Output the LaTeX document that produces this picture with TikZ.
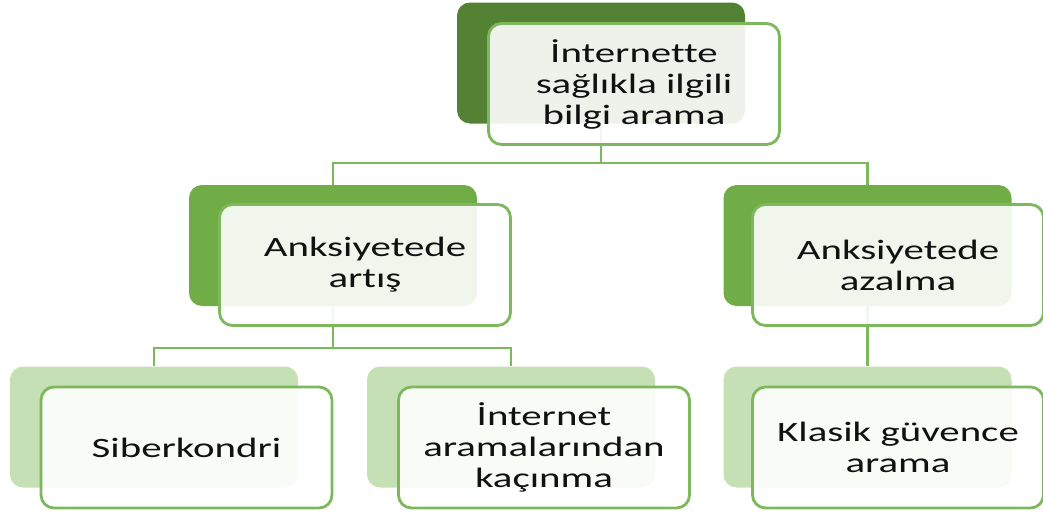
\documentclass[tikz,border=0pt]{standalone}
\usepackage{fontspec}
\newfontfamily\widefont[FakeStretch=1.46,Ligatures={NoCommon}]{Carlito}
\definecolor{darkg}{HTML}{548235}
\definecolor{midg}{HTML}{70AD47}
\definecolor{lightg}{HTML}{C5E0B4}
\definecolor{lineg}{HTML}{7DB85C}
\definecolor{txt}{HTML}{111111}
\tikzset{
  backbox/.style={draw=none, rounded corners=13pt, inner sep=0pt, minimum width=288pt, minimum height=121pt},
  frontbox/.style={draw=lineg, line width=2.8pt, fill=white, fill opacity=0.9, text opacity=1,
     rounded corners=13pt, inner sep=0pt, minimum width=291pt, minimum height=121pt,
     align=center, text=txt, font=\widefont\fontsize{28}{31}\selectfont},
  conn/.style={draw=lineg, line width=2.8pt}
}
\begin{document}
\begin{tikzpicture}[x=1pt,y=-1pt]
\useasboundingbox (0,0) rectangle (1043,515);
% back rectangles
\node[backbox, fill=darkg] (b0) at (601,63) {};
\node[backbox, fill=midg] (b1) at (333,245.5) {};
\node[backbox, fill=midg] (b2) at (867.5,245.5) {};
\node[backbox, fill=lightg] (b3) at (154,427) {};
\node[backbox, fill=lightg] (b4) at (511,427) {};
\node[backbox, fill=lightg] (b5) at (867.5,427) {};
% connectors
\coordinate (bus1) at (0,163);
\coordinate (bus2) at (0,348);
\draw[conn] (b0.south) -- (b0.south |- bus1) -| (b1.north);
\draw[conn] (b0.south |- bus1) -| (b2.north);
\draw[conn] (b1.south) -- (b1.south |- bus2) -| (b3.north);
\draw[conn] (b1.south |- bus2) -| (b4.north);
\draw[conn] (b2.south) -- (b5.north);
% front boxes
\node[frontbox] (f0) at (634,84) {İnternette\\sağlıkla ilgili\\bilgi arama};
\node[frontbox] (f1) at (365,265) {Anksiyetede\\artış};
\node[frontbox] (f2) at (898,265) {Anksiyetede\\azalma};
\node[frontbox] (f3) at (186.5,447.5) {Siberkondri};
\node[frontbox] (f4) at (544,447.5) {İnternet\\aramalarından\\kaçınma};
\node[frontbox] (f5) at (898,447.5) {Klasik güvence\\arama};
\end{tikzpicture}
\end{document}
